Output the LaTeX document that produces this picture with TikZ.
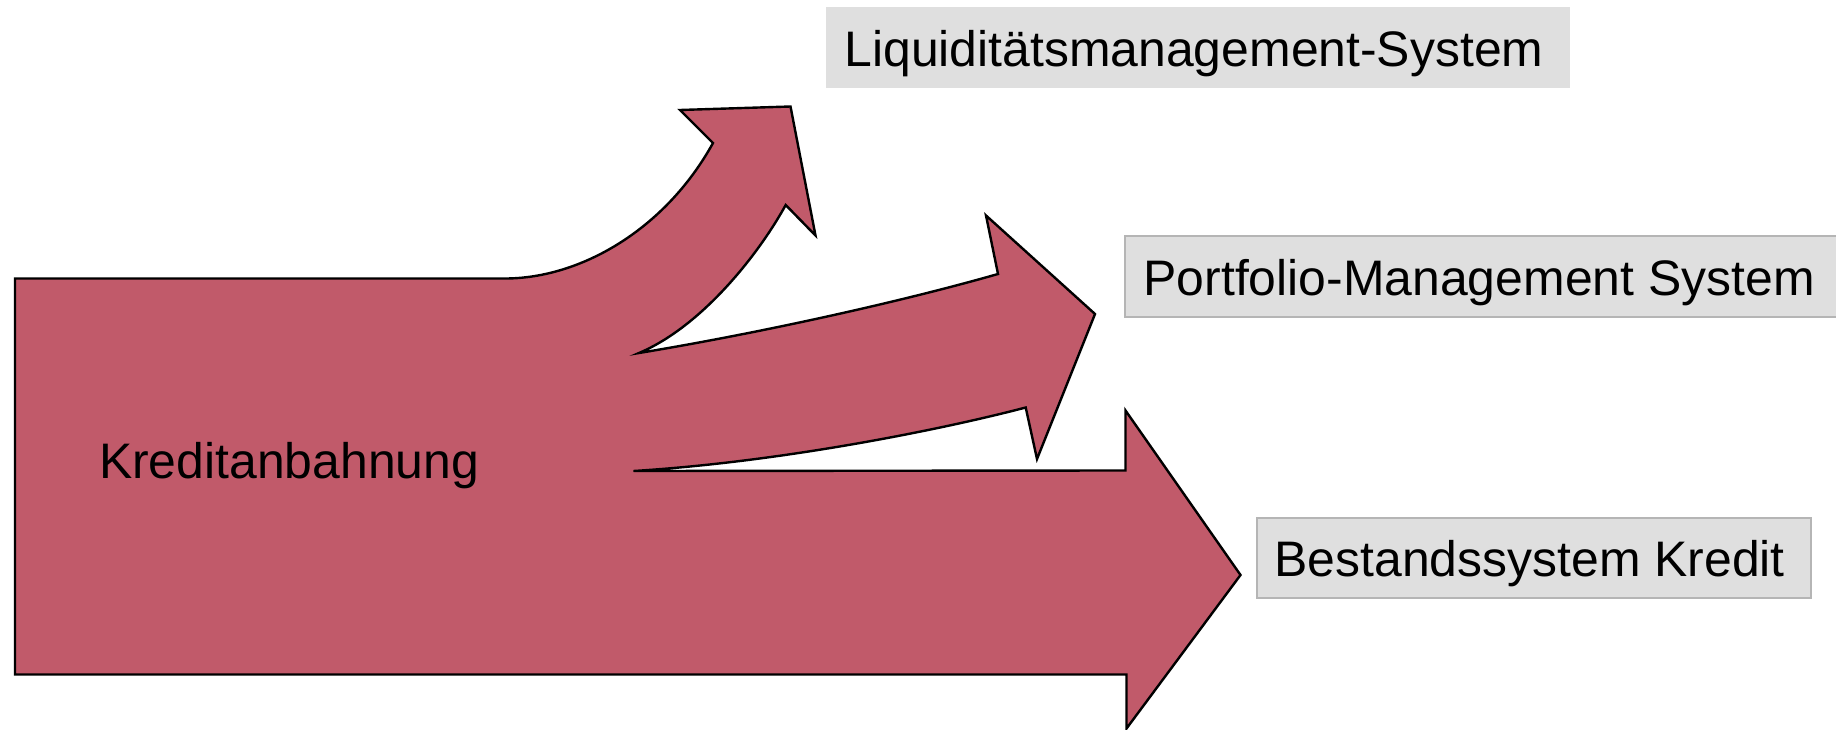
\documentclass[tikz,border=0pt]{standalone}
\usepackage{fontspec}
\setmainfont{Liberation Sans}
\definecolor{arrowred}{HTML}{C15A6A}
\definecolor{boxgray}{HTML}{DFDFDF}
\definecolor{boxline}{HTML}{B5B5B5}
\tikzset{
  arrowshape/.style={fill=arrowred, draw=black, line width=2.4pt, line join=miter, miter limit=20},
  graybox/.style={fill=boxgray, inner sep=0pt, outer sep=0pt, anchor=north west},
  graybordered/.style={graybox, draw=boxline, line width=2pt},
  label/.style={inner sep=0pt, outer sep=0pt, anchor=base west, font=\fontsize{49.9}{59}\selectfont}
}
\begin{document}
\begin{tikzpicture}[x=1pt,y=-1pt]
\useasboundingbox (0,0) rectangle (1836,730);
% big branching arrow
\draw[arrowshape]
  (15,278.5) -- (302,278.5) -- (505,278.5)
  .. controls (580,278.5) and (665,230) .. (713,143)
  -- (680,110) -- (790.5,106.5) -- (815.5,235.5) -- (785.7,205)
  .. controls (760,252) and (703,326) .. (639,353)
  .. controls (760,333) and (900,302) .. (998,274)
  -- (986,215.5) -- (1095,314) -- (1037,459) -- (1025.7,407.5)
  .. controls (940,430) and (780,462) .. (633.5,471)
  -- (1125.5,470.5) -- (1125.5,410.5) -- (1240.5,575)
  -- (1126.5,728.5) -- (1126.5,674.5) -- (15,674.5) -- cycle;
% boxes
\node[graybox, minimum width=744.5pt, minimum height=80.5pt] (liqbox) at (825.5,7.3) {};
\node[graybordered, minimum width=720pt, minimum height=81pt] (pmbox) at (1124.5,236) {};
\node[graybordered, minimum width=554pt, minimum height=80pt] (bsbox) at (1257,518) {};
% labels
\node[label] (kredit) at (99,478.5) {Kreditanbahnung};
\node[label] (liq) at (844.5,66.7) {Liquiditätsmanagement-System};
\node[label] (pm) at (1143.5,295) {Portfolio-Management System};
\node[label] (bs) at (1274.5,576) {Bestandssystem Kredit};
\end{tikzpicture}
\end{document}
